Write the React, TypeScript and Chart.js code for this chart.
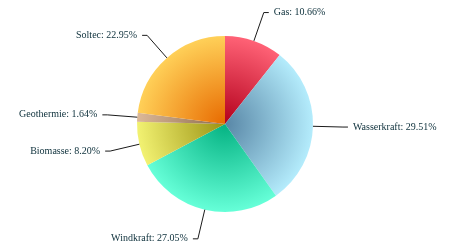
import React, { useEffect, useRef } from "react";
import { Chart, registerables } from "chart.js";

Chart.register(...registerables);

const categories = ["Gas", "Wasserkraft", "Windkraft", "Biomasse", "Geothermie", "Soltec"];
const shares = [10.66, 29.51, 27.05, 8.2, 1.64, 22.95];
const centerColors = ["#b3001c", "#5886a6", "#04b282", "#9a9212", "#8a6a4c", "#e86a00"];
const edgeColors = ["#ff6276", "#b4ecfc", "#66ffd8", "#f2f272", "#dcb898", "#ffd058"];

const LABEL_FONT = "10px 'Liberation Serif', 'Times New Roman', serif";

const labelPlugin = {
  id: "pieLabels",
  afterDatasetsDraw(chart: any) {
    const ctx = chart.ctx;
    const meta = chart.getDatasetMeta(0);
    const distance = 30;
    ctx.save();
    ctx.font = LABEL_FONT;
    ctx.textBaseline = "middle";
    meta.data.forEach((arc: any, i: number) => {
      const { x, y, startAngle, endAngle, outerRadius } = arc.getProps(
        ["x", "y", "startAngle", "endAngle", "outerRadius"],
        true
      );
      const mid = (startAngle + endAngle) / 2;
      const cos = Math.cos(mid);
      const sin = Math.sin(mid);
      const ex = x + outerRadius * cos;
      const ey = y + outerRadius * sin;
      const bx = x + (outerRadius + distance) * cos;
      const by = y + (outerRadius + distance) * sin;
      const right = cos >= 0;
      const hx = bx + (right ? 5 : -5);
      ctx.beginPath();
      ctx.moveTo(ex, ey);
      ctx.lineTo(bx, by);
      ctx.lineTo(hx, by);
      ctx.strokeStyle = "#1a1a1a";
      ctx.lineWidth = 1;
      ctx.stroke();
      ctx.fillStyle = "#0c2f3a";
      ctx.textAlign = right ? "left" : "right";
      const text = categories[i] + ": " + shares[i].toFixed(2) + "%";
      ctx.fillText(text, bx + (right ? 10 : -10), by);
    });
    ctx.restore();
  },
};

export default function App() {
  const ref = useRef<HTMLCanvasElement | null>(null);
  useEffect(() => {
    let chart: Chart | null = null;
    let cancelled = false;
    const build = () => {
      if (cancelled || !ref.current) return;
      chart = new Chart(ref.current, {
        type: "pie",
        data: {
          labels: categories,
          datasets: [
            {
              data: shares,
              borderWidth: 0,
              backgroundColor: (c: any) => {
                const ch = c.chart;
                const area = ch.chartArea;
                const i = c.dataIndex;
                if (!area || i === undefined) return edgeColors[i ?? 0];
                const cx = (area.left + area.right) / 2;
                const cy = (area.top + area.bottom) / 2;
                const r = Math.min(area.right - area.left, area.bottom - area.top) / 2;
                const g = ch.ctx.createRadialGradient(cx, cy, 0, cx, cy, r);
                g.addColorStop(0, centerColors[i]);
                g.addColorStop(1, edgeColors[i]);
                return g;
              },
            },
          ],
        },
        options: {
          animation: false,
          responsive: false,
          events: [],
          layout: { padding: { top: 36, bottom: 38, left: 0, right: 0 } },
          plugins: {
            legend: { display: false },
            tooltip: { enabled: false },
          },
        },
        plugins: [labelPlugin],
      });
    };
    const fonts: any = (document as any).fonts;
    if (fonts && fonts.load) {
      fonts.load(LABEL_FONT).then(build, build);
    } else {
      build();
    }
    return () => {
      cancelled = true;
      if (chart) chart.destroy();
    };
  }, []);
  return (
    <div style={{ position: "fixed", left: 0, top: 0, width: 450, height: 250, background: "#ffffff" }}>
      <canvas ref={ref} width={450} height={250} style={{ width: 450, height: 250 }} />
    </div>
  );
}
